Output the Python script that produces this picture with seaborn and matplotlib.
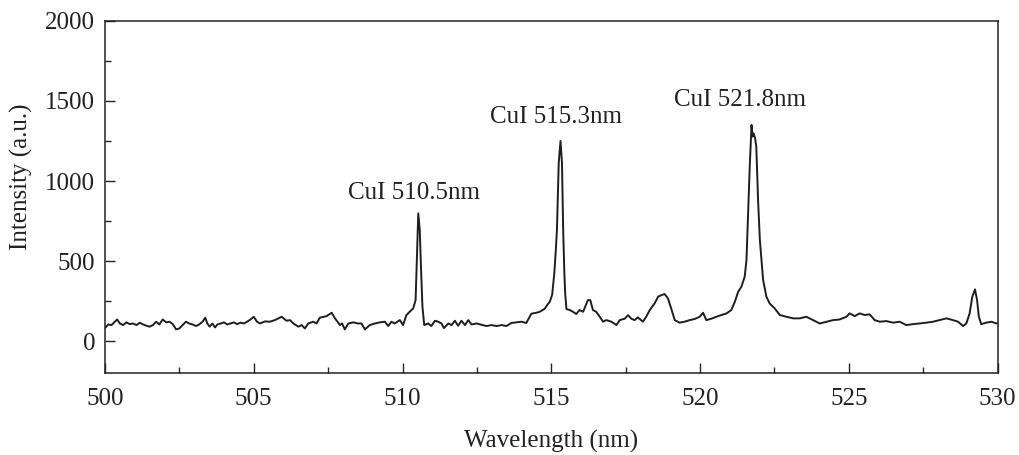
import matplotlib
matplotlib.use("Agg")
import matplotlib.pyplot as plt
import seaborn as sns
import pandas as pd
from matplotlib.ticker import MultipleLocator

# Emission spectrum: wavelength (nm) and intensity (a.u.)
wavelength = [
    500.00, 500.11, 500.22, 500.33, 500.41, 500.50, 500.61, 500.72, 500.83, 500.94,
    501.06, 501.17, 501.28, 501.39, 501.50, 501.61, 501.72, 501.83, 501.94, 502.06,
    502.17, 502.28, 502.39, 502.50, 502.61, 502.72, 502.83, 502.94, 503.06, 503.17,
    503.28, 503.37, 503.44, 503.52, 503.61, 503.70, 503.78, 503.89, 504.00, 504.11,
    504.22, 504.33, 504.44, 504.56, 504.67, 504.78, 504.89, 505.00, 505.11, 505.21,
    505.38, 505.54, 505.71, 505.94, 506.10, 506.22, 506.33, 506.50, 506.61, 506.72,
    506.83, 507.00, 507.11, 507.22, 507.45, 507.62, 507.73, 507.90, 507.97, 508.06,
    508.18, 508.34, 508.51, 508.62, 508.74, 508.90, 509.07, 509.24, 509.41, 509.52,
    509.63, 509.74, 509.91, 510.02, 510.13, 510.24, 510.36, 510.44, 510.49, 510.53,
    510.58, 510.62, 510.67, 510.73, 510.86, 510.97, 511.09, 511.20, 511.31, 511.39,
    511.54, 511.65, 511.76, 511.87, 511.98, 512.10, 512.21, 512.32, 512.49, 512.66,
    512.82, 512.99, 513.16, 513.33, 513.49, 513.66, 513.83, 514.00, 514.16, 514.33,
    514.50, 514.61, 514.78, 514.88, 514.95, 515.03, 515.10, 515.15, 515.19, 515.25,
    515.31, 515.36, 515.40, 515.44, 515.47, 515.51, 515.62, 515.73, 515.84, 515.95,
    516.07, 516.16, 516.23, 516.31, 516.40, 516.51, 516.63, 516.74, 516.85, 517.02,
    517.19, 517.30, 517.47, 517.58, 517.69, 517.80, 517.91, 518.08, 518.19, 518.31,
    518.47, 518.59, 518.70, 518.81, 518.92, 519.03, 519.15, 519.31, 519.48, 519.65,
    519.82, 519.99, 520.10, 520.21, 520.38, 520.55, 520.72, 520.89, 521.05, 521.17,
    521.28, 521.39, 521.50, 521.56, 521.61, 521.67, 521.73, 521.76, 521.80, 521.85,
    521.89, 521.95, 522.01, 522.12, 522.23, 522.34, 522.51, 522.68, 522.90, 523.13,
    523.35, 523.57, 523.80, 524.02, 524.25, 524.47, 524.69, 524.92, 525.03, 525.20,
    525.36, 525.53, 525.70, 525.87, 526.04, 526.26, 526.49, 526.71, 526.93, 527.16,
    527.38, 527.60, 527.83, 528.05, 528.28, 528.50, 528.67, 528.84, 528.95, 529.06,
    529.15, 529.24, 529.31, 529.37, 529.45, 529.62, 529.79, 529.96, 530.00,
]
intensity = [
    82, 104, 100, 121, 135, 110, 100, 117, 106, 110,
    100, 115, 104, 96, 90, 100, 121, 104, 135, 117,
    121, 106, 73, 79, 100, 121, 110, 104, 94, 104,
    121, 146, 110, 90, 110, 85, 104, 110, 117, 104,
    110, 117, 106, 115, 110, 121, 135, 152, 121, 110,
    123, 121, 131, 152, 127, 131, 110, 90, 100, 79,
    110, 121, 110, 146, 156, 177, 142, 100, 110, 73,
    110, 117, 110, 110, 73, 100, 110, 117, 121, 94,
    121, 110, 131, 100, 162, 183, 204, 256, 569, 798,
    694, 465, 215, 100, 110, 94, 127, 121, 110, 81,
    110, 100, 127, 96, 127, 100, 131, 104, 110, 102,
    94, 100, 94, 100, 94, 113, 117, 121, 113, 171,
    177, 183, 202, 230, 245, 290, 420, 560, 694, 1112,
    1250, 1112, 694, 420, 290, 200, 194, 183, 169, 194,
    183, 225, 256, 256, 194, 183, 152, 121, 131, 121,
    100, 131, 140, 162, 140, 131, 148, 121, 152, 194,
    235, 277, 287, 294, 267, 204, 131, 115, 121, 131,
    138, 152, 177, 131, 140, 152, 163, 173, 194, 246,
    308, 340, 402, 506, 777, 1090, 1350, 1277, 1298, 1267,
    1215, 881, 631, 381, 277, 235, 204, 163, 152, 142,
    142, 152, 131, 110, 121, 131, 135, 152, 173, 156,
    173, 163, 167, 131, 121, 125, 115, 121, 100, 106,
    110, 115, 121, 131, 142, 131, 121, 94, 110, 173,
    277, 323, 256, 152, 106, 115, 121, 110, 112,
]

# Peak annotations: label, x (nm), y (a.u.)
peak_labels = ["CuI 510.5nm", "CuI 515.3nm", "CuI 521.8nm"]
peak_label_x = [510.38, 515.15, 521.33]
peak_label_y = [925, 1400, 1506]

x_ticks = [500, 505, 510, 515, 520, 525, 530]
y_ticks = [0, 500, 1000, 1500, 2000]

sns.set_theme(style="ticks")
plt.rcParams["font.family"] = ["Liberation Serif", "DejaVu Serif"]

df = pd.DataFrame({"Wavelength": wavelength, "Intensity": intensity})

fig = plt.figure(figsize=(10.19, 4.55), dpi=100)
ax = fig.add_axes([0.103, 0.180, 0.876, 0.774])

sns.lineplot(data=df, x="Wavelength", y="Intensity", ax=ax,
             color="#1e1e1e", linewidth=1.4, estimator=None)

ax.set_xlim(500, 530)
ax.set_ylim(-200, 2000)
ax.set_xticks(x_ticks)
ax.set_yticks(y_ticks)
ax.xaxis.set_minor_locator(MultipleLocator(2.5))
ax.yaxis.set_minor_locator(MultipleLocator(250))

ax.tick_params(axis="both", which="major", direction="in", length=7,
               width=1.0, labelsize=18, colors="#222222",
               top=False, right=False)
ax.tick_params(axis="x", which="major", pad=11)
ax.tick_params(axis="y", which="major", pad=7)
ax.tick_params(axis="both", which="minor", direction="in", length=4,
               width=1.0, top=False, right=False)

for side in ["left", "right", "top", "bottom"]:
    ax.spines[side].set_visible(True)
    ax.spines[side].set_linewidth(1.1)
    ax.spines[side].set_color("#222222")

ax.set_xlabel("Wavelength (nm)", fontsize=18, color="#222222")
ax.set_ylabel("Intensity (a.u.)", fontsize=18, color="#222222")
ax.xaxis.set_label_coords(0.5, -0.16)
ax.yaxis.set_label_coords(-0.081, 0.557)

for label, lx, ly in zip(peak_labels, peak_label_x, peak_label_y):
    ax.text(lx, ly, label, ha="center", va="center", fontsize=18,
            color="#222222")

fig.savefig("out.png", dpi=100, facecolor="white")
